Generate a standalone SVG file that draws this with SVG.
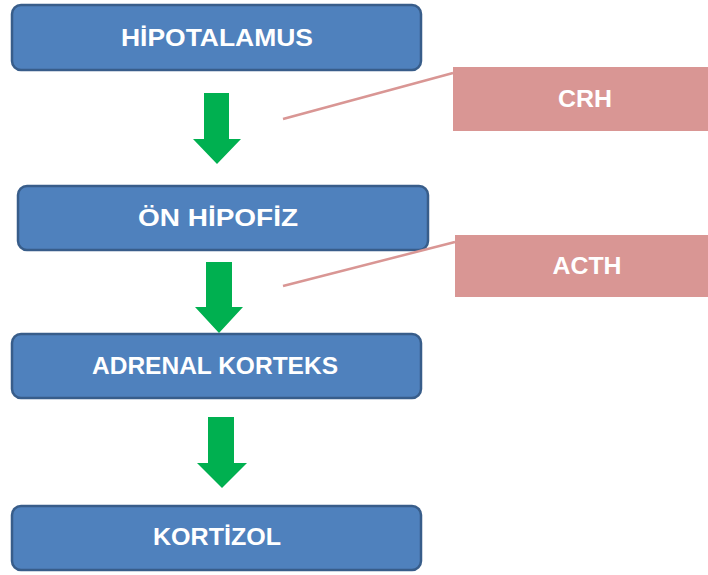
<svg xmlns="http://www.w3.org/2000/svg" width="708" height="575" viewBox="0 0 708 575">
<style>
.box{fill:#4F81BD;stroke:#385D8A;stroke-width:2.5}
.hb{fill:#D99694}
.t{fill:#FFFFFF;font-family:"Liberation Sans","Open Sans",Arial,sans-serif;font-weight:bold;font-size:23px;text-anchor:middle;dominant-baseline:central}
.ar{fill:#00B050}
.ln{stroke:#D99694;stroke-width:2.5;fill:none}
</style>
<rect width="708" height="575" fill="#FFFFFF"/>
<g id="hipotalamus"><rect class="box" x="12" y="5" width="409" height="65" rx="9"/><text class="t" x="217" y="38" textLength="192" lengthAdjust="spacingAndGlyphs">HİPOTALAMUS</text></g>
<g id="on-hipofiz"><rect class="box" x="18" y="186" width="410" height="64" rx="9"/><text class="t" x="218" y="218" textLength="160" lengthAdjust="spacingAndGlyphs">ÖN HİPOFİZ</text></g>
<g id="adrenal-korteks"><rect class="box" x="12" y="334" width="409" height="64" rx="9"/><text class="t" x="215" y="366" textLength="246" lengthAdjust="spacingAndGlyphs">ADRENAL KORTEKS</text></g>
<g id="kortizol"><rect class="box" x="12" y="506" width="409" height="64" rx="9"/><text class="t" x="217" y="537" textLength="128" lengthAdjust="spacingAndGlyphs">KORTİZOL</text></g>
<g id="crh"><rect class="hb" x="453" y="67" width="255" height="64"/><text class="t" x="585" y="99" textLength="54" lengthAdjust="spacingAndGlyphs">CRH</text></g>
<g id="acth"><rect class="hb" x="455" y="235" width="253" height="62"/><text class="t" x="587" y="266" textLength="69" lengthAdjust="spacingAndGlyphs">ACTH</text></g>
<g id="connectors">
<polygon class="ar" points="204,93 229,93 229,139 241,139 217,164 193,139 204,139"/>
<polygon class="ar" points="206,262 232,262 232,307 243,307 219,333 195,307 206,307"/>
<polygon class="ar" points="208,417 234,417 234,463 247,463 222,488 197,463 208,463"/>
<line class="ln" x1="283" y1="119" x2="453" y2="73"/>
<line class="ln" x1="283" y1="286" x2="455" y2="242"/>
</g>
</svg>
